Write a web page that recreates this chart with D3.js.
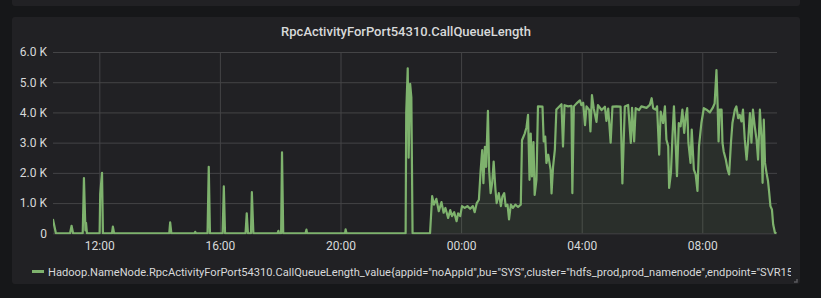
<!DOCTYPE html>
<html>
<head>
<meta charset="utf-8">
<script src="https://cdn.jsdelivr.net/npm/d3@7"></script>
<style>
  body { margin: 0; background: #161719; }
  svg { display: block; }
</style>
</head>
<body>
<div id="chart"></div>
<script>
// hours since midnight of the first day (24 = 00:00 next day)
const hours = [
  10.46, 10.56, 11.03, 11.08, 11.13, 11.45, 11.49, 11.54, 11.56, 11.59,
  12.01, 12.03, 12.09, 12.12, 12.42, 12.45, 12.49, 14.32, 14.35, 14.39,
  15.16, 15.18, 15.21, 15.59, 15.63, 15.67, 16.09, 16.13, 16.17, 16.85,
  16.89, 16.93, 17.03, 17.06, 17.11, 17.91, 17.94, 17.96, 18.03, 18.06,
  18.10, 18.84, 18.87, 18.89, 20.15, 20.17, 20.20, 22.16, 22.18, 22.23,
  22.26, 22.31, 22.35, 22.39, 22.97,
  23.04, 23.10, 23.18, 23.26, 23.35, 23.42, 23.48, 23.57, 23.64, 23.70,
  23.77, 23.85, 23.90, 23.97, 24.03, 24.12, 24.21, 24.30, 24.39, 24.45,
  24.52, 24.59, 24.65, 24.70, 24.74, 24.79, 24.83, 24.89, 24.93, 24.98,
  25.03, 25.08, 25.14, 25.18, 25.25, 25.32, 25.37, 25.43, 25.48, 25.54,
  25.59, 25.65, 25.72, 25.80, 25.89, 25.98, 26.02, 26.11, 26.17, 26.22,
  26.27, 26.31, 26.35, 26.40, 26.44, 26.50, 26.55, 26.70, 26.74, 26.79,
  26.83, 26.89, 26.97, 27.00, 27.05, 27.11, 27.16, 27.33, 27.38, 27.43,
  27.55, 27.66, 27.69, 27.74, 27.83, 27.94, 27.99, 28.05, 28.11, 28.16,
  28.25, 28.29, 28.34, 28.40, 28.49, 28.54, 28.66, 28.77, 28.82, 28.88,
  28.96, 29.02, 29.15, 29.29, 29.35, 29.43, 29.54, 29.63, 29.67, 29.74,
  29.79, 29.90, 29.98, 30.15, 30.26, 30.32, 30.37, 30.46, 30.50, 30.57,
  30.62, 30.70, 30.76, 30.81, 30.87, 30.90, 30.96, 31.01, 31.06, 31.12,
  31.16, 31.22, 31.28, 31.34, 31.40, 31.45, 31.50, 31.54, 31.61, 31.65,
  31.72, 31.78, 31.84, 31.89, 31.97, 32.05, 32.14, 32.25, 32.34, 32.41,
  32.47, 32.51, 32.54, 32.58, 32.64, 32.67, 32.71, 32.78, 32.84, 32.89,
  32.95, 33.00, 33.08, 33.13, 33.19, 33.24, 33.30, 33.35, 33.41, 33.47,
  33.52, 33.58, 33.63, 33.68, 33.74, 33.80, 33.85, 33.91, 33.96, 34.00,
  34.04, 34.08, 34.13, 34.18, 34.22, 34.26, 34.31, 34.35, 34.41, 34.46
];
const queueLength = [
  470, 0, 0, 250, 0, 0, 1830, 100, 350, 0,
  0, 1300, 2000, 0, 0, 220, 0, 0, 360, 0,
  0, 50, 0, 0, 2200, 0, 0, 1550, 0, 0,
  660, 0, 0, 1360, 0, 0, 80, 0, 0, 2680,
  0, 0, 120, 0, 0, 130, 0, 0, 4000, 5460,
  2500, 4950, 4500, 0, 0,
  1230, 950, 1140, 730, 1030, 680, 840, 510, 770, 570,
  700, 400, 660, 570, 900, 840, 900, 810, 900, 700,
  1000, 1110, 2100, 2750, 1660, 2860, 2200, 4050, 2100, 1330,
  1660, 2370, 1440, 1000, 1330, 900, 1220, 1330, 900, 950,
  460, 950, 840, 950, 870, 950, 3080, 3300, 3510, 3920,
  1770, 3300, 1880, 3020, 1270, 1780, 4200, 4190, 3040, 3200,
  2330, 2600, 2100, 1320, 2200, 2770, 4100, 4270, 2870, 4240,
  4200, 4220, 1330, 4200, 4300, 4400, 4240, 4320, 3580, 4200,
  4080, 3370, 4570, 4130, 3690, 4240, 4080, 4190, 3720, 4130,
  3000, 4190, 4200, 4190, 1650, 4200, 4250, 2990, 4150, 3040,
  4140, 4080, 4200, 4150, 4250, 4470, 4140, 4090, 4200, 2600,
  4030, 3650, 4200, 3100, 2880, 1500, 2000, 3200, 4200, 2880,
  1890, 3650, 3540, 4090, 3320, 3860, 4140, 2990, 2330, 3430,
  2110, 1950, 1400, 2880, 3650, 4140, 4090, 4000, 4140, 4300,
  5400, 4200, 3040, 4090, 4090, 2990, 2710, 2440, 2110, 1950,
  2990, 3650, 4090, 4200, 3810, 3920, 3700, 4090, 3100, 2440,
  3040, 3980, 3000, 4090, 3540, 3100, 2440, 4090, 3200, 1670,
  3760, 2330, 2000, 1730, 1340, 900, 790, 300, 20, 0
];
const yTicks = [0, 1000, 2000, 3000, 4000, 5000, 6000];
const xTickHours = [12, 16, 20, 24, 28, 32];
const rangeHours = [10.464, 34.478];
const panelTitle = "RpcActivityForPort54310.CallQueueLength";
const seriesName = 'Hadoop.NameNode.RpcActivityForPort54310.CallQueueLength_value{appid="noAppId",bu="SYS",cluster="hdfs_prod,prod_namenode",endpoint="SVR15';

const width = 821, height = 298;
const plot = { left: 53, right: 777, top: 52, bottom: 233.3 };
const font = "Roboto, 'Helvetica Neue', Arial, sans-serif";
const baseDay = new Date(2018, 0, 1).getTime();
const toDate = h => new Date(baseDay + h * 3600 * 1000);

const data = hours.map((h, i) => ({ t: toDate(h), v: queueLength[i] }));

// shrink a text's font size so that it spans the given width
function fitText(sel, weight, size, target) {
  sel.style("font", weight + " " + size + "px " + font);
  const w = sel.node().getComputedTextLength();
  sel.style("font", weight + " " + (size * target / w).toFixed(2) + "px " + font);
}

const svg = d3.select("#chart").append("svg")
  .attr("width", width).attr("height", height)
  .style("background", "#161719");

// panels
svg.append("rect").attr("x", 12).attr("y", -4).attr("width", 788).attr("height", 10)
  .attr("rx", 3).attr("fill", "#212124");
svg.append("rect").attr("x", 12).attr("y", 17).attr("width", 788).attr("height", 267)
  .attr("rx", 3).attr("fill", "#212124");
svg.append("path").attr("d", "M797,279 V282 H794").attr("fill", "none")
  .attr("stroke", "#5a5a5e").attr("stroke-width", 1.5);

const titleText = svg.append("text")
  .attr("x", 406).attr("y", 35.5)
  .attr("text-anchor", "middle")
  .attr("fill", "#d8d9da")
  .text(panelTitle);
fitText(titleText, 500, 14, 250);

const x = d3.scaleTime()
  .domain(rangeHours.map(toDate))
  .range([plot.left, plot.right]);
const y = d3.scaleLinear()
  .domain([0, 6000])
  .range([plot.bottom, plot.top]);

const gridColor = "#444446";

const yAxis = svg.append("g")
  .attr("transform", "translate(" + plot.left + ",0)")
  .call(d3.axisLeft(y)
    .tickValues(yTicks)
    .tickSize(-(plot.right - plot.left))
    .tickPadding(6)
    .tickFormat(d => d === 0 ? "0" : (d / 1000).toFixed(1) + " K"));

const xAxis = svg.append("g")
  .attr("transform", "translate(0," + plot.bottom + ")")
  .call(d3.axisBottom(x)
    .tickValues(xTickHours.map(toDate))
    .tickSize(-(plot.bottom - plot.top))
    .tickPadding(8)
    .tickFormat(d3.timeFormat("%H:%M")));

[yAxis, xAxis].forEach(g => {
  g.select(".domain").remove();
  g.selectAll(".tick line").attr("stroke", gridColor);
  g.selectAll(".tick text").attr("fill", "#d8d9da").style("font", "12px " + font);
});

svg.append("clipPath").attr("id", "plot-clip")
  .append("rect").attr("x", plot.left).attr("y", plot.top - 5)
  .attr("width", plot.right - plot.left + 2).attr("height", plot.bottom - plot.top + 6);

const series = svg.append("g").attr("clip-path", "url(#plot-clip)");
series.append("path")
  .datum(data)
  .attr("fill", "#7eb26d")
  .attr("fill-opacity", 0.1)
  .attr("d", d3.area().x(d => x(d.t)).y0(y(0)).y1(d => y(d.v)));
series.append("path")
  .datum(data)
  .attr("fill", "none")
  .attr("stroke", "#7eb26d")
  .attr("stroke-width", 2.2)
  .attr("stroke-linejoin", "round")
  .attr("d", d3.line().x(d => x(d.t)).y(d => y(d.v)));

// legend (the panel cuts the long series name, as in the dashboard)
svg.append("clipPath").attr("id", "legend-clip")
  .append("rect").attr("x", 12).attr("y", 255).attr("width", 779).attr("height", 30);
const legend = svg.append("g").attr("clip-path", "url(#legend-clip)");
legend.append("rect").attr("x", 32).attr("y", 270).attr("width", 12).attr("height", 3)
  .attr("fill", "#7eb26d");
const legendText = legend.append("text")
  .attr("x", 48).attr("y", 275.5)
  .attr("fill", "#d8d9da")
  .text(seriesName);
fitText(legendText, 400, 12, 746);
</script>
</body>
</html>
